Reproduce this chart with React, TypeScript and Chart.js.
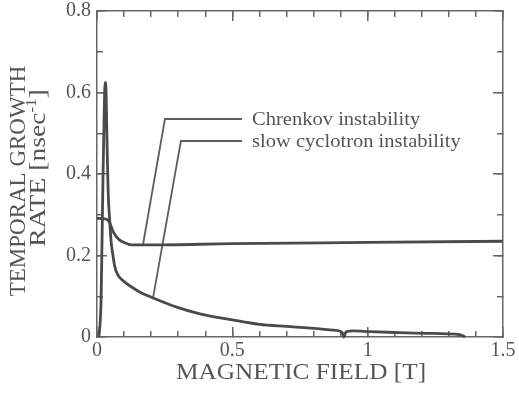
import React, { useEffect, useRef } from 'react';
import { Chart, registerables } from 'chart.js';

Chart.register(...registerables);

// Magnetic field [T] and temporal growth rate [nsec^-1]
const chrenkovField = [0, 0.03, 0.045, 0.06, 0.08, 0.1, 0.13, 0.2, 0.5, 1.0, 1.5];
const chrenkovRate = [0.291, 0.29, 0.283, 0.258, 0.24, 0.232, 0.226, 0.226, 0.229, 0.232, 0.235];

const slowField = [0.007, 0.012, 0.015, 0.018, 0.022, 0.026, 0.03, 0.033, 0.037, 0.041, 0.048, 0.052, 0.059, 0.066, 0.075, 0.085, 0.1, 0.125, 0.159, 0.207, 0.3, 0.38, 0.5, 0.6, 0.7, 0.787, 0.87, 0.905, 0.912, 0.92, 0.946, 1.01, 1.1, 1.22, 1.34, 1.36];
const slowRate = [0, 0.04, 0.09, 0.21, 0.385, 0.53, 0.625, 0.61, 0.48, 0.36, 0.275, 0.235, 0.2, 0.172, 0.155, 0.145, 0.136, 0.124, 0.11, 0.096, 0.072, 0.057, 0.042, 0.031, 0.026, 0.022, 0.017, 0.012, 0.0, 0.013, 0.015, 0.013, 0.011, 0.009, 0.006, 0.0];

// annotation leaders (field, rate)
const chrenkovLeaderField = [0.17, 0.251, 0.536];
const chrenkovLeaderRate = [0.227, 0.535, 0.535];
const slowLeaderField = [0.207, 0.31, 0.536];
const slowLeaderRate = [0.096, 0.481, 0.481];
const labelField = 0.573;
const labelTexts = ['Chrenkov instability', 'slow cyclotron instability'];

const xLabel = 'MAGNETIC FIELD [T]';
const yLabelLine1 = 'TEMPORAL GROWTH';
const yLabelLine2 = 'RATE [nsec';
const yLabelSup = '-1';
const yLabelEnd = ']';

const xRange = [0, 1.5];
const yRange = [0, 0.8];
const xMajorStep = 0.5;
const xMinorStep = 0.1;
const yMajorStep = 0.2;
const yMinorStep = 0.1;

const FONT = "'Liberation Serif', 'Times New Roman', serif";
const INK = '#555555';
const FRAME = '#666666';

const toPts = (xs: number[], ys: number[]) => xs.map((x, i) => ({ x, y: ys[i] }));

const zeroPadding = (s: any) => {
  s.paddingLeft = 0;
  s.paddingRight = 0;
  s.paddingTop = 0;
  s.paddingBottom = 0;
};

const textPlugin = {
  id: 'texts',
  afterDraw(chart: any) {
    const ctx = chart.ctx;
    const a = chart.chartArea;
    const xs = chart.scales.x;
    const ys = chart.scales.y;
    ctx.save();
    ctx.fillStyle = INK;
    const drawText = (text: string, x: number, y: number, size: number, sx: number, align: string) => {
      ctx.save();
      ctx.translate(x, y);
      ctx.scale(sx, 1);
      ctx.font = `${size}px ${FONT}`;
      ctx.textAlign = align;
      ctx.textBaseline = 'middle';
      ctx.fillText(text, 0, 0);
      ctx.restore();
    };
    const lx = xs.getPixelForValue(labelField);
    drawText(labelTexts[0], lx, ys.getPixelForValue(chrenkovLeaderRate[2]) + 1, 19, 1.08, 'left');
    drawText(labelTexts[1], lx, ys.getPixelForValue(slowLeaderRate[2]) + 1, 19, 1.08, 'left');
    drawText(xLabel, (a.left + a.right) / 2 + 1, 373, 23, 1.1, 'center');

    ctx.save();
    ctx.translate(25, 181);
    ctx.rotate(-Math.PI / 2);
    ctx.font = `23px ${FONT}`;
    ctx.textAlign = 'center';
    ctx.textBaseline = 'alphabetic';
    ctx.fillText(yLabelLine1, 0, 0);
    ctx.restore();

    ctx.save();
    ctx.translate(45, 168);
    ctx.rotate(-Math.PI / 2);
    ctx.scale(1.2, 1);
    ctx.textAlign = 'left';
    ctx.textBaseline = 'alphabetic';
    ctx.font = `23px ${FONT}`;
    const w1 = ctx.measureText(yLabelLine2).width;
    ctx.font = `14px ${FONT}`;
    const w2 = ctx.measureText(yLabelSup).width;
    ctx.font = `23px ${FONT}`;
    const w3 = ctx.measureText(yLabelEnd).width;
    let cx = -(w1 + w2 + w3) / 2;
    ctx.fillText(yLabelLine2, cx, 0);
    cx += w1;
    ctx.font = `14px ${FONT}`;
    ctx.fillText(yLabelSup, cx, -9);
    cx += w2;
    ctx.font = `23px ${FONT}`;
    ctx.fillText(yLabelEnd, cx, 0);
    ctx.restore();

    ctx.restore();
  },
};

// helper: an unlabelled axis that only draws inward tick marks (and optionally the frame edge)
const markAxis = (axis: 'x' | 'y', position: string, step: number, len: number, edge: boolean, weight: number, range: number[]) => ({
  type: 'linear',
  axis,
  position,
  weight,
  min: range[0],
  max: range[1],
  afterFit: (s: any) => {
    if (axis === 'x') s.height = 0;
    else s.width = 0;
  },
  grid: { display: true, drawOnChartArea: false, drawTicks: true, tickLength: -len, color: FRAME, lineWidth: 1.5 },
  border: { display: edge, color: FRAME, width: 1.5 },
  ticks: { display: false, stepSize: step, maxTicksLimit: 100, autoSkip: false },
});

export default function App() {
  const ref = useRef<HTMLCanvasElement>(null);
  useEffect(() => {
    const curve = { xAxisID: 'x', yAxisID: 'y', borderColor: '#4a4a4a', borderWidth: 2.8, pointRadius: 0, showLine: true, fill: false, clip: 6, cubicInterpolationMode: 'monotone' as const };
    const leader = { xAxisID: 'x', yAxisID: 'y', borderColor: '#5e5e5e', borderWidth: 1.8, pointRadius: 0, showLine: true, fill: false, clip: 6, tension: 0 };
    const chart = new Chart(ref.current!, {
      type: 'scatter',
      data: {
        datasets: [
          { label: 'Chrenkov instability', data: toPts(chrenkovField, chrenkovRate), ...curve },
          { label: 'slow cyclotron instability', data: toPts(slowField, slowRate), ...curve },
          { label: 'leader1', data: toPts(chrenkovLeaderField, chrenkovLeaderRate), ...leader },
          { label: 'leader2', data: toPts(slowLeaderField, slowLeaderRate), ...leader },
        ],
      },
      options: {
        responsive: false,
        animation: false,
        layout: { padding: { left: 0, right: 16, top: 11, bottom: 0 } },
        plugins: { legend: { display: false }, tooltip: { enabled: false } },
        scales: {
          x: {
            type: 'linear',
            position: 'bottom',
            weight: 1,
            min: xRange[0],
            max: xRange[1],
            afterFit: (s: any) => { s.height = 65; zeroPadding(s); },
            grid: { display: true, drawOnChartArea: false, drawTicks: true, tickLength: -10, color: FRAME, lineWidth: 1.5 },
            border: { display: true, color: FRAME, width: 1.5 },
            ticks: {
              stepSize: xMajorStep,
              autoSkip: false,
              maxRotation: 0,
              padding: 12,
              color: INK,
              font: { family: FONT, size: 20 },
              callback: (v: any) => String(Math.round(Number(v) * 10) / 10),
            },
          },
          y: {
            type: 'linear',
            position: 'left',
            weight: 1,
            min: yRange[0],
            max: yRange[1],
            afterFit: (s: any) => { s.width = 97; zeroPadding(s); },
            grid: { display: true, drawOnChartArea: false, drawTicks: true, tickLength: -10, color: FRAME, lineWidth: 1.5 },
            border: { display: true, color: FRAME, width: 1.5 },
            ticks: {
              stepSize: yMajorStep,
              autoSkip: false,
              padding: 16,
              color: INK,
              font: { family: FONT, size: 20 },
              callback: (v: any) => {
                const n = Math.round(Number(v) * 10);
                return n === 0 ? '0' : (n / 10).toFixed(1);
              },
            },
          },
          xMinor: markAxis('x', 'bottom', xMinorStep, 6, false, 0, xRange),
          xTop: markAxis('x', 'top', xMinorStep, 6, true, 0, xRange),
          xTopMajor: markAxis('x', 'top', xMajorStep, 10, false, 1, xRange),
          yMinor: markAxis('y', 'left', yMinorStep, 6, false, 0, yRange),
          yRight: markAxis('y', 'right', yMinorStep, 6, true, 0, yRange),
          yRightMajor: markAxis('y', 'right', yMajorStep, 10, false, 1, yRange),
        } as any,
      },
      plugins: [textPlugin],
    });
    return () => chart.destroy();
  }, []);
  return (
    <div style={{ position: 'absolute', left: 0, top: 0, width: 519, height: 402 }}>
      <canvas ref={ref} width={519} height={402} />
    </div>
  );
}
